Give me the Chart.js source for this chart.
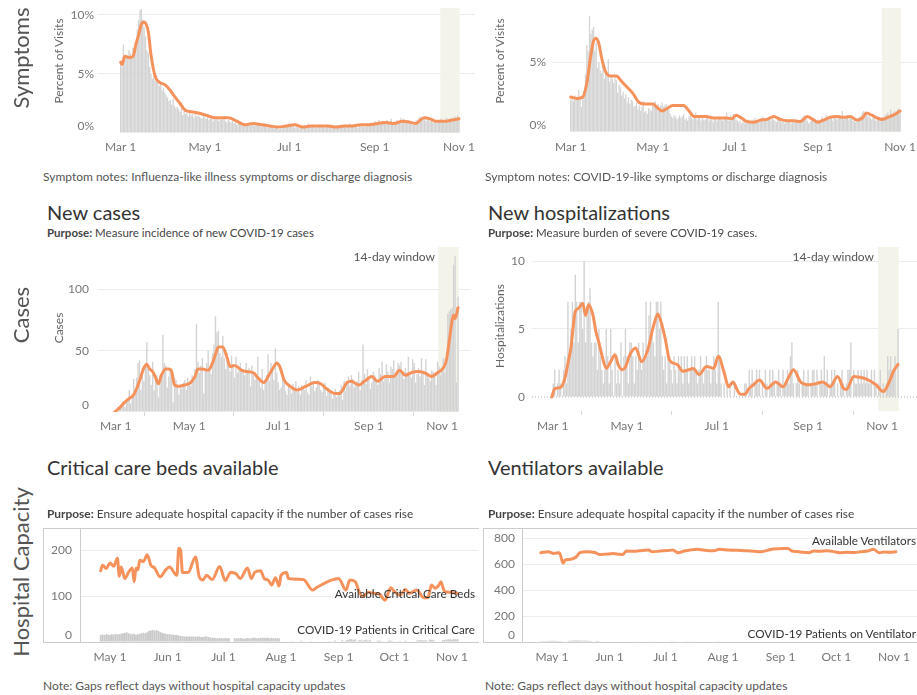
<!DOCTYPE html>
<html>
<head>
<meta charset="utf-8">
<title>COVID-19 indicators</title>
<script src="https://cdn.jsdelivr.net/npm/chart.js@4.4.0/dist/chart.umd.min.js"></script>
<style>
  body { margin: 0; background: #fff; font-family: Lato, "Open Sans", sans-serif; color: #333; }
  #page { position: relative; width: 917px; height: 695px; overflow: hidden; }
  .t { position: absolute; white-space: nowrap; }
  .big { font-size: 22px; color: #555; transform: translate(-50%, -50%) rotate(-90deg); }
  .axt { font-size: 12px; color: #666; transform: translate(-50%, -50%) rotate(-90deg); }
  .title { font-size: 20px; color: #333; transform: translateY(-50%); }
  .purpose { font-size: 11.5px; color: #444; transform: translateY(-50%); }
  .purpose2 { font-size: 11.9px; color: #444; transform: translateY(-50%); }
  .note { font-size: 12px; color: #555; transform: translateY(-50%); }
  .lab { font-size: 11.7px; color: #333; transform: translate(-100%, -50%); }
  .win { font-size: 12px; color: #555; transform: translate(-100%, -50%); }
  canvas { position: absolute; }
  .box { position: absolute; border-top: 1px solid #ccc; border-left: 1px solid #ccc; border-bottom: 1px solid #ccc; }
</style>
</head>
<body>
<div id="page">
  <div class="box" style="left:43px;top:528px;width:435px;height:113px"></div>
  <div class="box" style="left:483px;top:528px;width:434px;height:113px"></div>

  <canvas id="ili" width="475" height="165" style="left:0;top:0"></canvas>
  <canvas id="cli" width="447" height="165" style="left:470px;top:0"></canvas>
  <canvas id="cases" width="475" height="195" style="left:0;top:240px"></canvas>
  <canvas id="hosp" width="447" height="195" style="left:470px;top:240px"></canvas>
  <canvas id="beds" width="437" height="155" style="left:43px;top:520px"></canvas>
  <canvas id="vent" width="434" height="155" style="left:483px;top:520px"></canvas>

  <div class="t big" style="left:20px;top:58px">Symptoms</div>
  <div class="t axt" style="left:58px;top:61px">Percent of Visits</div>
  <div class="t axt" style="left:499px;top:61px">Percent of Visits</div>
  <div class="t note" style="left:43px;top:176px">Symptom notes: Influenza-like illness symptoms or discharge diagnosis</div>
  <div class="t note" style="left:485px;top:176px">Symptom notes: COVID-19-like symptoms or discharge diagnosis</div>

  <div class="t title" style="left:47px;top:212px">New cases</div>
  <div class="t title" style="left:488px;top:212px">New hospitalizations</div>
  <div class="t purpose" style="left:47px;top:232px"><b>Purpose:</b> Measure incidence of new COVID-19 cases</div>
  <div class="t purpose" style="left:488px;top:232px"><b>Purpose:</b> Measure burden of severe COVID-19 cases.</div>
  <div class="t big" style="left:20px;top:315px">Cases</div>
  <div class="t axt" style="left:58px;top:328px">Cases</div>
  <div class="t axt" style="left:499px;top:326px">Hospitalizations</div>
  <div class="t win" style="left:435px;top:256px">14-day window</div>
  <div class="t win" style="left:874px;top:256px">14-day window</div>

  <div class="t title" style="left:47px;top:467px">Critical care beds available</div>
  <div class="t title" style="left:488px;top:467px">Ventilators available</div>
  <div class="t big" style="left:20px;top:572px">Hospital Capacity</div>
  <div class="t purpose2" style="left:47px;top:513px"><b>Purpose:</b> Ensure adequate hospital capacity if the number of cases rise</div>
  <div class="t purpose2" style="left:488px;top:513px"><b>Purpose:</b> Ensure adequate hospital capacity if the number of cases rise</div>
  <div class="t lab" style="left:475px;top:593px">Available Critical Care Beds</div>
  <div class="t lab" style="left:475px;top:629px">COVID-19 Patients in Critical Care</div>
  <div class="t lab" style="left:916px;top:540px">Available Ventilators</div>
  <div class="t lab" style="left:916px;top:633px">COVID-19 Patients on Ventilator</div>
  <div class="t note" style="left:43px;top:685px">Note: Gaps reflect days without hospital capacity updates</div>
  <div class="t note" style="left:485px;top:685px">Note: Gaps reflect days without hospital capacity updates</div>
</div>
<script>
// days are counted from Mar 1 (Mar 1 = 0)
const tickDays = [0, 61, 122, 184, 245];
const tickLabels = ['Mar 1', 'May 1', 'Jul 1', 'Sep 1', 'Nov 1'];
const capTickDays = [61, 92, 122, 153, 184, 214, 245];
const capTickLabels = ['May 1', 'Jun 1', 'Jul 1', 'Aug 1', 'Sep 1', 'Oct 1', 'Nov 1'];
const windowStart = 231.5, windowEnd = 245.5;

// influenza-like illness, % of visits, daily from Mar 1
const iliBars = [
  6.0,5.6,7.5,6.2,6.6,6.5,7.0,6.8,6.3,7.2,
  6.5,7.8,8.8,9.6,10.4,10.5,9.6,9.0,8.2,7.0,
  6.8,5.6,5.0,4.6,4.8,4.4,4.9,4.3,4.0,4.4,
  3.6,3.8,3.4,3.2,3.0,2.7,2.8,2.4,2.9,2.3,
  2.1,2.2,2.0,1.8,2.6,1.5,1.9,1.6,1.7,1.4,
  1.8,1.5,1.6,1.3,1.7,1.4,1.5,1.4,1.3,1.2,
  1.5,1.3,1.2,1.4,1.1,1.3,1.2,1.0,1.4,1.1,
  1.2,1.0,1.3,1.1,1.2,1.4,1.0,0.9,1.1,1.0,
  0.9,1.0,0.8,0.9,0.7,0.8,0.9,0.7,0.6,0.7,
  0.6,0.8,0.7,0.9,0.6,0.8,0.7,0.6,0.8,0.7,
  0.6,0.7,0.5,0.6,0.8,0.5,0.6,0.4,0.5,0.6,
  0.5,0.4,0.6,0.5,0.4,0.3,0.5,0.4,0.5,0.6,
  0.7,0.6,0.8,0.7,0.5,0.6,0.4,0.5,0.6,0.4,
  0.5,0.6,0.5,0.7,0.6,0.5,0.8,0.6,0.5,0.7,
  0.6,0.4,0.5,0.6,0.5,0.7,0.6,0.5,0.4,0.6,
  0.5,0.6,0.7,0.5,0.4,0.6,0.5,0.7,0.6,0.5,
  0.6,0.5,0.7,0.6,0.5,0.6,0.8,0.6,0.5,0.7,
  0.6,0.5,0.4,0.6,0.7,0.5,0.6,0.5,0.7,0.8,
  0.7,0.9,0.8,0.7,1.0,0.9,0.8,1.1,0.9,1.0,
  0.8,1.0,0.9,1.1,0.8,1.0,1.2,0.9,1.0,0.8,
  1.1,0.9,1.0,1.3,1.0,1.2,0.9,1.0,1.1,0.9,
  0.8,1.0,0.7,0.9,1.1,1.0,1.3,1.4,1.2,1.1,
  1.3,1.0,1.2,1.1,1.0,1.2,0.9,1.1,1.0,0.9,
  1.1,1.0,1.2,0.9,1.1,1.0,1.3,1.1,1.2,1.0,
  1.3,1.1,1.4,1.2,1.5,1.3
];
const iliLineDays = [0,1,3,6,9,11,13,15,17,18,20,22,25,28,32,36,39,43,47,51,56,62,68,74,78,84,90,96,102,108,114,120,126,132,138,144,150,156,162,168,174,180,186,192,198,204,210,214,217,220,224,228,232,236,240,245];
const iliLineVals = [6.0,5.8,6.5,6.4,6.5,7.5,8.3,9.2,9.4,9.3,8.6,6.6,4.8,4.3,4.1,3.6,3.1,2.5,1.9,1.8,1.7,1.5,1.3,1.3,1.3,1.0,0.7,0.8,0.7,0.6,0.5,0.6,0.7,0.5,0.6,0.6,0.6,0.5,0.6,0.6,0.7,0.7,0.8,0.9,0.8,1.0,0.9,0.8,1.1,1.3,1.2,1.0,1.0,1.0,1.1,1.2];

// COVID-19-like illness, % of visits, daily from Mar 1
const cliBars = [
  2.3,2.4,2.2,2.6,2.3,2.5,3.0,2.4,1.8,2.6,
  2.9,4.1,6.2,5.8,8.3,7.0,7.3,7.5,5.8,6.4,
  4.6,5.0,4.4,4.2,4.8,3.8,4.3,4.2,5.2,3.6,
  4.0,3.8,3.5,3.9,3.7,2.8,3.4,3.2,2.6,2.9,
  2.4,2.7,2.1,2.5,2.0,2.3,2.2,1.8,1.9,2.1,
  1.6,1.9,1.5,1.8,2.2,1.4,1.5,1.3,1.7,1.6,
  1.5,1.9,2.1,2.2,1.8,2.0,1.7,1.9,2.1,1.8,
  1.9,2.0,1.7,1.6,1.3,1.1,1.0,1.2,1.1,0.9,
  1.0,1.2,1.0,1.1,1.3,0.9,1.0,0.8,1.1,1.2,
  1.0,0.9,1.1,1.4,0.9,1.0,1.2,0.8,1.0,0.9,
  0.9,1.0,1.1,0.8,1.0,0.9,0.7,1.0,0.9,0.8,
  1.0,1.1,0.9,0.8,0.9,1.0,1.4,0.9,0.8,1.2,
  1.0,1.3,1.1,0.9,0.8,0.7,0.8,0.6,0.7,0.8,
  0.6,0.7,0.9,0.8,0.7,0.9,0.8,1.0,0.7,0.8,
  0.9,0.8,1.0,1.1,0.9,0.8,1.0,0.9,1.1,0.8,
  1.0,0.9,0.8,0.7,0.9,1.0,0.8,0.7,0.9,0.6,
  0.8,0.7,0.9,0.8,0.6,0.7,0.8,0.9,0.7,0.8,
  0.7,0.9,1.0,1.1,1.2,0.9,0.8,0.6,0.7,0.8,
  0.9,1.0,0.7,0.8,0.9,0.8,0.7,1.1,0.9,1.0,
  1.2,1.0,0.9,1.1,1.0,0.8,1.1,1.2,0.9,1.0,
  1.2,1.0,1.5,0.9,1.1,1.0,1.2,0.9,1.0,1.1,
  0.8,0.9,0.7,0.8,1.0,1.1,1.2,1.4,1.5,1.2,
  1.3,1.1,1.2,1.0,0.9,1.1,1.2,0.8,1.0,0.9,
  1.0,0.9,1.1,1.0,1.2,1.3,1.4,1.1,1.6,1.3,
  1.4,1.5,1.3,1.6,1.7,1.5
];
const cliLineDays = [0,5,9,12,15,17,19,21,23,26,30,34,38,42,46,51,56,61,65,68,72,76,80,84,88,92,96,101,106,111,116,120,123,127,131,136,141,146,151,156,161,166,171,176,180,184,188,193,198,203,208,213,217,220,224,228,232,236,240,245];
const cliLineVals = [2.5,2.4,2.5,3.5,5.5,6.5,6.7,6.3,5.3,4.3,4.0,4.0,3.6,3.2,2.8,2.1,2.0,2.0,1.7,1.5,1.7,1.9,1.9,1.9,1.5,1.1,1.1,1.1,1.0,1.0,1.0,0.95,1.2,1.0,0.75,0.7,0.85,0.9,1.1,0.9,0.8,0.8,0.75,1.1,0.9,0.7,0.85,1.05,1.1,1.05,1.1,0.85,1.0,1.35,1.2,1.0,0.9,1.05,1.2,1.5];

// new cases, daily from Mar 1
const caseBars = [
  0,0,0,0,0,0,0,0,0,0,
  1,2,4,3,6,5,9,4,8,10,
  18,7,12,27,14,28,40,42,18,36,
  25,38,57,35,30,22,41,18,26,30,
  12,30,27,63,40,38,20,29,34,30,
  8,28,26,22,14,21,19,24,26,18,
  28,24,21,30,27,35,72,41,32,38,
  44,15,35,40,50,36,31,48,55,78,
  65,66,48,45,62,44,35,48,40,33,
  46,38,28,45,32,37,40,35,34,30,
  40,32,36,21,38,31,26,28,45,25,
  20,35,18,24,30,47,25,40,35,26,
  52,32,24,18,20,28,24,17,14,22,
  19,15,23,18,25,16,21,14,22,19,
  18,26,16,14,29,21,24,17,20,26,
  25,18,16,21,24,13,20,17,15,11,
  14,19,12,16,18,22,10,25,17,24,
  29,21,30,27,20,23,25,33,18,26,
  55,31,23,35,28,19,24,33,30,27,
  22,36,31,41,25,28,39,33,24,37,
  35,42,30,29,40,38,41,33,27,36,
  32,45,30,28,43,40,24,31,36,29,
  44,31,22,43,32,28,25,34,33,29,
  22,41,37,30,35,44,32,37,80,82,
  84,85,120,127,24,94
];
const caseLineDays = [10,13,17,20,23,26,28,30,32,34,36,38,40,42,45,47,49,51,54,58,62,65,67,70,74,77,79,81,84,87,89,92,97,100,105,108,112,116,119,121,123,126,130,135,141,147,151,155,161,164,169,172,177,181,186,190,195,201,205,209,213,217,222,227,231,235,237,239,241,242,243,245];
const caseLineVals = [0,3,8,11,14,22,29,36,39,35,33,28,23,30,35,35,33,22,21,22,24,29,35,35,34,40,47,53,53,44,37,38,34,33,32,28,24,31,37,40,37,26,21,18,21,24,23,19,15,15,24,25,22,25,29,25,29,29,34,30,32,33,32,29,32,36,42,58,75,79,76,85];

// new hospitalizations, daily from Mar 1
const hospBars = [
  0,0,0,0,0,0,0,0,0,0,
  0,1,2,0,1,2,1,0,2,3,
  1,7,3,5,7,4,9,7,4,7,
  7,5,10,4,6,7,8,4,3,4,
  4,2,5,3,2,1,2,5,3,1,
  5,2,0,3,1,2,1,4,0,3,
  5,3,1,4,4,3,1,3,2,4,
  3,2,4,3,7,3,6,7,5,4,
  3,7,7,5,7,3,2,3,1,3,
  3,2,1,3,2,1,3,2,3,1,
  3,2,3,1,2,3,2,3,2,1,
  2,3,2,1,2,3,2,2,1,2,
  3,2,1,7,3,1,0,1,0,1,
  0,1,0,0,1,0,0,0,0,0,
  0,1,1,0,2,1,2,0,1,2,
  1,2,0,1,0,2,1,0,2,1,
  2,1,0,1,2,1,0,2,1,1,
  2,1,3,4,1,0,1,2,1,0,
  1,2,1,1,2,0,1,2,2,1,
  2,0,1,2,1,3,1,2,0,1,
  2,1,2,0,1,0,1,2,1,0,
  1,2,2,4,0,2,1,1,2,1,
  2,1,2,1,2,1,1,2,0,2,
  1,0,1,2,0,1,0,1,3,2,
  3,2,2,3,0,5
];
const hospLineDays = [10,12,16,19,21,23,26,28,31,33,35,38,40,42,44,47,50,53,55,58,60,63,67,71,75,79,82,84,87,90,95,99,103,106,110,115,120,123,127,130,133,136,138,141,144,147,151,156,162,167,171,174,179,185,190,194,199,204,208,210,215,219,224,230,235,239,242,245];
const hospLineVals = [0,0.6,0.7,1.4,2.5,3.6,6.3,6.5,6.9,6.0,6.8,6.0,4.8,4.0,3.1,2.1,2.6,3.1,2.4,2.0,2.2,3.1,3.6,2.6,3.4,5.2,6.1,5.6,4.3,2.7,2.4,1.9,2.0,2.1,1.65,2.25,2.1,3.0,1.8,0.76,1.1,0.5,0.2,0.2,0.64,0.9,1.25,0.64,1.1,0.76,1.5,2.0,1.1,0.9,1.0,1.1,0.76,1.5,0.64,0.55,1.5,1.45,1.3,0.9,0.4,1.1,1.9,2.4];

// available critical care beds (update days only)
const bedsDays = [56,57,59,61,63,65,66,67,69,71,73,74,75,76,77,79,81,83,85,88,91,93,97,98,99,100,101,103,107,109,111,113,116,120,123,126,129,131,135,137,139,142,144,146,148,150,152,153,156,157,165,170,172,184,188,190,193,195,197,200,203,206,209,212,214,217,220,222,226,230,232,234,236,238,239,241,244,248];
const bedsVals = [155,167,160,172,165,182,143,163,138,152,161,131,161,157,178,175,190,167,161,142,157,163,145,204,200,151,151,151,185,142,135,145,136,164,134,152,148,138,161,138,152,155,138,135,124,140,122,145,151,138,136,113,118,138,113,135,131,110,99,108,106,104,91,118,110,102,114,106,113,96,96,124,117,124,131,110,108,106];

// COVID-19 patients in critical care, daily from day 56 (null = no update)
const ccStart = 56;
const ccPatients = [
  15,16,15,17,16,15,17,16,18,17,
  17,18,19,20,21,19,18,17,18,16,
  17,18,19,20,19,21,24,25,26,25,
  26,24,22,20,19,18,17,17,16,16,
  15,15,14,13,13,12,12,12,12,12,
  12,11,12,12,11,11,12,12,11,10,
  9,9,8,8,9,8,8,9,8,8,
  null,null,8,8,8,8,8,7,8,9,
  8,8,9,9,8,9,9,9,9,9,
  9,8,9,8,9,8,8,null,null,null,
  0,null,null,2,null,null,null,null,3,null,
  null,null,null,2,null,null,null,null,null,null,
  null,null,null,2,null,null,3,null,null,null,
  4,null,3,5,6,6,5,6,null,4,
  4,3,4,5,3,4,null,null,null,3,
  3,2,null,null,null,3,3,2,null,null,
  null,2,null,null,3,null,null,null,null,null,
  3,4,4,4,3,4,null,5,5,4,
  null,null,null,null,4,5,5,6,6,5,
  6,6,6
];

// available ventilators (update days only)
const ventDays = [55,59,62,65,67,68,70,72,74,76,80,84,87,90,94,97,99,101,105,108,113,115,119,123,126,129,132,135,139,143,148,151,156,161,166,170,173,177,180,184,188,190,193,196,199,202,205,209,213,216,220,224,227,231,234,237,240,243,246];
const ventVals = [687,694,681,687,605,630,635,640,654,687,694,688,673,676,680,675,673,700,698,702,707,694,700,703,707,687,700,707,713,706,702,713,708,705,702,698,694,705,715,718,720,700,696,690,687,700,698,702,694,687,690,688,694,700,713,687,692,690,694];

// COVID-19 patients on ventilator, daily from day 55
const ventStart = 55;
const ventPatients = [
  6,7,7,8,8,9,9,10,9,8,
  8,7,null,null,null,9,10,11,12,12,
  11,12,11,10,11,10,9,8,null,null,
  8,7,null,null,null,null,null,null,null,null,
  null,null,null,null,null,null,4,4,3,4,
  3,3,4,3,3,3,4,3,3,3,
  3,3,null,null,null,null,null,null,null,null,
  2,3,2,3,null,null,3,3,2,3,
  3,3,2,null,null,null,null,null,null,null,
  null,null,null,null,null,2,2,null,null,null
];

const orange = '#f5925c';
const barGrey = '#d3d3d3';
const tickFont = { family: 'Lato', size: 12 };

const shadePlugin = {
  id: 'windowShade',
  beforeDatasetsDraw(chart, args, opts) {
    if (!opts || opts.from === undefined) return;
    const { ctx, chartArea, scales } = chart;
    const x1 = scales.x.getPixelForValue(opts.from);
    const x2 = scales.x.getPixelForValue(opts.to);
    ctx.save();
    ctx.fillStyle = '#f3f3ea';
    ctx.fillRect(x1, chartArea.top, x2 - x1, chartArea.bottom - chartArea.top);
    ctx.restore();
  }
};

function barSet(values, start, color) {
  return {
    type: 'bar', order: 2,
    data: values.map((v, i) => ({ x: start + i, y: v })),
    backgroundColor: color || barGrey,
    barPercentage: 0.95, categoryPercentage: 1
  };
}
function lineSet(days, vals) {
  return {
    type: 'line', order: 1,
    data: days.map((d, i) => ({ x: d, y: vals[i] })),
    borderColor: orange, borderWidth: 3, pointRadius: 0,
    cubicInterpolationMode: 'monotone', borderJoinStyle: 'round', borderCapStyle: 'round'
  };
}

function drawChart(id, c) {
  new Chart(document.getElementById(id), {
    type: 'bar',
    data: { datasets: c.datasets },
    options: {
      responsive: false, animation: false, devicePixelRatio: 1,
      layout: { padding: { top: c.padTop, right: c.padRight, left: 0, bottom: 0 } },
      plugins: { legend: { display: false }, tooltip: { enabled: false }, windowShade: c.shade || {} },
      scales: {
        x: {
          type: 'linear', min: c.xMin, max: c.xMax, offset: false,
          afterBuildTicks: s => { s.ticks = c.xTicks.map(v => ({ value: v })); },
          afterFit: s => { s.height = c.xH; s.paddingLeft = 0; s.paddingRight = 0; },
          grid: c.xTickMarks
            ? { display: true, drawOnChartArea: false, drawTicks: true, tickLength: 4, color: '#d8d8d8' }
            : { display: false },
          border: { display: false },
          ticks: {
            autoSkip: false, maxRotation: 0, padding: c.xPad, color: '#777', font: tickFont,
            align: c.xAlign || 'center',
            callback: (v, i) => c.xLabels[i]
          }
        },
        y: {
          min: c.yMin, max: c.yMax,
          afterBuildTicks: s => { s.ticks = c.yTicks.map(v => ({ value: v })); },
          // keep every labelled tick, even if the scale thinned them out
          afterTickToLabelConversion: s => { s.allTicks = s.ticks.slice(); },
          afterFit: s => {
            s.width = c.yW; s.paddingTop = 0; s.paddingBottom = 0;
            if (s.allTicks) { s.ticks = s.allTicks; s._labelSizes = null; }
          },
          grid: { drawTicks: false, color: ctx => ctx.tick && ctx.tick.value === 0 ? 'rgba(0,0,0,0)' : '#ececec' },
          border: c.yBorder ? { display: true, color: '#cccccc' } : { display: false },
          ticks: {
            autoSkip: false, padding: c.yPad, color: '#777', font: tickFont,
            // the bottom label sits a little above its gridline, as in the original
            callback: v => (v === 0 && c.zeroUp) ? [v + (c.ySuffix || ''), ''] : v + (c.ySuffix || '')
          }
        }
      }
    },
    plugins: [shadePlugin]
  });
}

drawChart('ili', {
  datasets: [barSet(iliBars, 0), lineSet(iliLineDays, iliLineVals)],
  padTop: 8, padRight: 0, xH: 32, yW: 98, xPad: -1, yPad: 4, zeroUp: true,
  xMin: -16.4, xMax: 256.6, xTicks: tickDays, xLabels: tickLabels,
  yMin: 0, yMax: 10.59, yTicks: [0, 5, 10], ySuffix: '%',
  shade: { from: windowStart, to: windowEnd }
});

drawChart('cli', {
  datasets: [barSet(cliBars, 0), lineSet(cliLineDays, cliLineVals)],
  padTop: 8, padRight: 0, xH: 33, yW: 82, xPad: 0, yPad: 6, zeroUp: true,
  xMin: -13.9, xMax: 257.6, xTicks: tickDays, xLabels: tickLabels,
  yMin: 0, yMax: 8.86, yTicks: [0, 5], ySuffix: '%',
  shade: { from: windowStart, to: windowEnd }
});

drawChart('cases', {
  datasets: [barSet(caseBars, 0), lineSet(caseLineDays, caseLineVals)],
  padTop: 7, padRight: 5, xH: 23, yW: 98, xPad: 3, yPad: 9, xTickMarks: true, xAlign: 'inner', zeroUp: true,
  xMin: -1.4, xMax: 253.2, xTicks: tickDays, xLabels: tickLabels,
  yMin: 0, yMax: 134.5, yTicks: [0, 50, 100],
  shade: { from: windowStart, to: windowEnd }
});

drawChart('hosp', {
  datasets: [
    barSet(hospBars, 0),
    lineSet(hospLineDays, hospLineVals),
    { type: 'line', order: 3, data: [{ x: -3.4, y: 0 }, { x: 257.9, y: 0 }],
      borderColor: '#b0b0b0', borderWidth: 1, borderDash: [1, 2], pointRadius: 0 }
  ],
  padTop: 7, padRight: 0, xH: 24, yW: 62, xPad: 4, yPad: 7, xTickMarks: true, xAlign: 'inner',
  xMin: -3.4, xMax: 257.9, xTicks: tickDays, xLabels: tickLabels,
  yMin: -1.03, yMax: 11.03, yTicks: [0, 5, 10],
  shade: { from: windowStart, to: windowEnd }
});

drawChart('beds', {
  datasets: [barSet(ccPatients, ccStart, '#c9c9c9'), lineSet(bedsDays, bedsVals)],
  padTop: 8, padRight: 2, xH: 33, yW: 37, xPad: 0, yPad: 8, yBorder: true, zeroUp: true,
  xMin: 44.86, xMax: 259.0, xTicks: capTickDays, xLabels: capTickLabels,
  yMin: 0, yMax: 248, yTicks: [0, 100, 200]
});

drawChart('vent', {
  datasets: [barSet(ventPatients, ventStart, '#c9c9c9'), lineSet(ventDays, ventVals)],
  padTop: 8, padRight: 0, xH: 33, yW: 39, xPad: 0, yPad: 7, yBorder: true, zeroUp: true,
  xMin: 44.86, xMax: 257.4, xTicks: capTickDays, xLabels: capTickLabels,
  yMin: 0, yMax: 877, yTicks: [0, 200, 400, 600, 800]
});
</script>
</body>
</html>
